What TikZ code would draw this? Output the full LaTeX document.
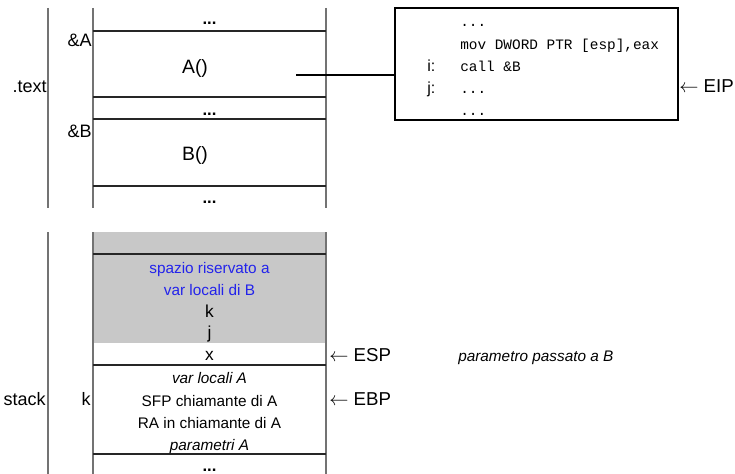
\documentclass[tikz,border=0pt]{standalone}
\usepackage{fontspec}
\setmainfont{Liberation Sans}
\newfontfamily\codefont{Liberation Mono}
\usetikzlibrary{positioning}
\usepackage{xcolor}
\definecolor{railgray}{RGB}{115,115,115}
\definecolor{reservedgray}{RGB}{200,200,200}
\definecolor{reservedblue}{RGB}{35,35,235}

\begin{document}
\begin{tikzpicture}[x=0.75pt,y=-0.75pt]
  \tikzset{
    rail/.style={
      draw=railgray,
      line width=1.3pt
    },
    sep/.style={
      draw=black!85,
      line width=0.9pt
    },
    celltext/.style={
      font=\fontsize{11.5}{13}\selectfont,
      inner sep=0pt,
      anchor=base
    },
    funtext/.style={
      font=\fontsize{14.5}{16}\selectfont,
      inner sep=0pt,
      anchor=base
    },
    label/.style={
      font=\fontsize{13.5}{15}\selectfont,
      inner sep=0pt,
      anchor=base east
    },
    pointer/.style={
      font=\fontsize{14}{16}\selectfont,
      inner sep=0pt,
      anchor=base west
    },
    dots/.style={
      font=\fontsize{12.5}{14}\selectfont\bfseries,
      inner sep=0pt,
      anchor=base
    },
    code/.style={
      font=\fontsize{10.8}{13}\codefont,
      inner sep=0pt,
      anchor=base west
    }
  }
  \useasboundingbox (0,0) rectangle (735,474);

  % Draw the .text segment
    \draw[rail] (48,8) -- (48,208);
    \draw[rail] (93,8) -- (93,208);
    \draw[rail] (326,8) -- (326,208);
    \draw[sep] (93,31) -- (326,31);
    \draw[sep] (93,97) -- (326,97);
    \draw[sep] (93,119) -- (326,119);
    \draw[sep] (93,186) -- (326,186);

    \node[dots] at (209.5,25) (tdots0) {...};
    \node[funtext] at (195,74) (funA) {A()};
    \node[dots] at (209.5,116) (tdots1) {...};
    \node[funtext] at (195,161) (funB) {B()};
    \node[dots] at (209.5,204) (tdots2) {...};

    \node[label] at (47,93) (textseg) {.text};
    \node[label] at (92,47) (addrA) {\&A};
    \node[label] at (92,138) (addrB) {\&B};

  % Code listing of A()
    \node[draw, line width=0.9pt, minimum width=212.25pt, minimum height=84pt,
      inner sep=0pt] at (536.5,64) (codebox) {};
    \coordinate (Aref) at (296,75);
    \draw[line width=0.8pt] (Aref) -- (Aref -| codebox.west);

    \node[code] at (460,27) (line0) {...};
    \node[code] at (460,50) (line1) {mov DWORD PTR [esp],eax};
    \node[code] at (460,72) (line2) {call \&B};
    \node[code] at (460,94) (line3) {...};
    \node[code] at (460,116) (line4) {...};
    \node[pointer, font=\fontsize{12}{14}\selectfont] at (427,72) (labi) {i:};
    \node[pointer, font=\fontsize{12}{14}\selectfont] at (427,94) (labj) {j:};
    \node[pointer] at (679,93) (eip) {$\leftarrow$ EIP};

  % Draw the stack segment
    \fill[reservedgray] (93,232) rectangle (326,343);
    \draw[rail] (48,232) -- (48,474);
    \draw[rail] (93,232) -- (93,474);
    \draw[rail] (326,232) -- (326,474);
    \draw[sep] (93,254) -- (326,254);
    \draw[sep] (93,365) -- (326,365);
    \draw[sep] (93,454) -- (326,454);

    \node[celltext, text=reservedblue] at (209.5,273) (resv0) {spazio riservato a};
    \node[celltext, text=reservedblue] at (209.5,295) (resv1) {var locali di B};
    \node[celltext, font=\fontsize{13}{15}\selectfont] at (209.5,317) (slotk) {k};
    \node[celltext, font=\fontsize{13}{15}\selectfont] at (209.5,338) (slotj) {j};
    \node[celltext, font=\fontsize{13}{15}\selectfont] at (209.5,360) (slotx) {x};
    \node[celltext, font=\fontsize{11.5}{13}\selectfont\itshape] at (209.5,383) (localsA) {var locali A};
    \node[celltext] at (209.5,406) (sfpA) {SFP chiamante di A};
    \node[celltext] at (209.5,428) (raA) {RA in chiamante di A};
    \node[celltext, font=\fontsize{11.5}{13}\selectfont\itshape] at (209.5,450) (paramsA) {parametri A};
    \node[dots] at (209.5,471) (sdots) {...};

    \node[label] at (46,405) (stackseg) {stack};
    \node[label] at (91,405) (addrk) {k};

    \node[pointer] at (329,361) (esp) {$\leftarrow$ ESP};
    \node[pointer] at (329,405) (ebp) {$\leftarrow$ EBP};
    \node[pointer, font=\fontsize{11.5}{13}\selectfont\itshape] at (458,361) (paramB) {parametro passato a B};

\end{tikzpicture}
\end{document}
